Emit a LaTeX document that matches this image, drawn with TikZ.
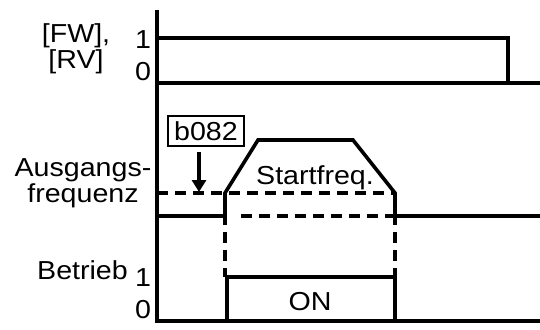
\documentclass[tikz,border=0pt]{standalone}
\usepackage{fontspec}
\setmainfont{Liberation Sans}[FakeStretch=1.1]
\usetikzlibrary{arrows.meta}
\begin{document}
\begin{tikzpicture}[x=1pt,y=-1pt,
  sig/.style={line width=3.6pt},
  dsh/.style={line width=3.6pt,dash pattern=on 11pt off 7pt},
  lbl/.style={font=\fontsize{26}{26}\selectfont,inner sep=0pt,align=center},
  dig/.style={font=\fontsize{26}{26}\selectfont,inner sep=0pt}]
\useasboundingbox (0,0) rectangle (540,329);
% axis
\coordinate (axT) at (157,10);
\coordinate (axB) at (157,322.8);
\draw[sig] (axT) -- (axB);
% FW/RV
\coordinate (f1) at (157,38);
\coordinate (f2) at (508,38);
\coordinate (f3) at (508,83);
\coordinate (f0) at (157,83);
\coordinate (fe) at (540,83);
\draw[sig] (f1) -- (f2) -- (f3);
\draw[sig] (f0) -- (fe);
% output frequency
\coordinate (o0) at (157,216);
\coordinate (o1) at (225,216);
\coordinate (o2) at (225,193);
\coordinate (o3) at (258,140);
\coordinate (o4) at (353,140);
\coordinate (o5) at (395,193);
\coordinate (o6) at (395,216);
\coordinate (o7) at (540,216);
\draw[sig,line join=miter] (o0) -- (o1) -- (o2) -- (o3) -- (o4) -- (o5) -- (o6) -- (o7);
\coordinate (d0) at (157,193);
\draw[dsh] (d0) -- (o5);
\coordinate (d1) at (241,216);
\draw[dsh] (d1) -- (o6);
% dashed verticals
\coordinate (b1) at (225,277);
\coordinate (b2) at (395,277);
\draw[dsh,dash phase=2pt] (o1) -- (b1);
\draw[dsh,dash phase=2pt] (o6) -- (b2);
% Betrieb
\coordinate (r0) at (157,321);
\coordinate (r1) at (227,321);
\coordinate (r2) at (227,277);
\coordinate (r3) at (395,277);
\coordinate (r4) at (395,321);
\coordinate (r5) at (540,321);
\draw[sig] (r0) -- (r5);
\draw[sig,line join=miter] (r1) -- (r2) -- (r3) -- (r4);
% b082 box and arrow
\node[draw,line width=2.5pt,minimum width=76pt,minimum height=30pt,inner sep=0pt,font=\fontsize{26}{26}\selectfont] (box) at (206,131) {b082};
\coordinate (arT) at (199,192);
\coordinate (arS) at (199,152);
\draw[line width=3.6pt,-{Triangle[length=12pt,width=14pt]}] (arS) -- (arT);
% labels
\node[lbl] (fw) at (76,49) {{[FW],}\\{[RV]}};
\node[dig] (fw1) at (143,40) {1};
\node[dig] (fw0) at (143,72) {0};
\node[lbl] (aus) at (83,183) {Ausgangs-\\frequenz};
\node[lbl,anchor=east] (bet) at (128,270) {Betrieb};
\node[dig] (be1) at (143,278) {1};
\node[dig] (be0) at (143,310) {0};
\node[lbl] (sf) at (315,178) {Startfreq.};
\node[lbl] (on) at (310,302) {ON};
\end{tikzpicture}
\end{document}
